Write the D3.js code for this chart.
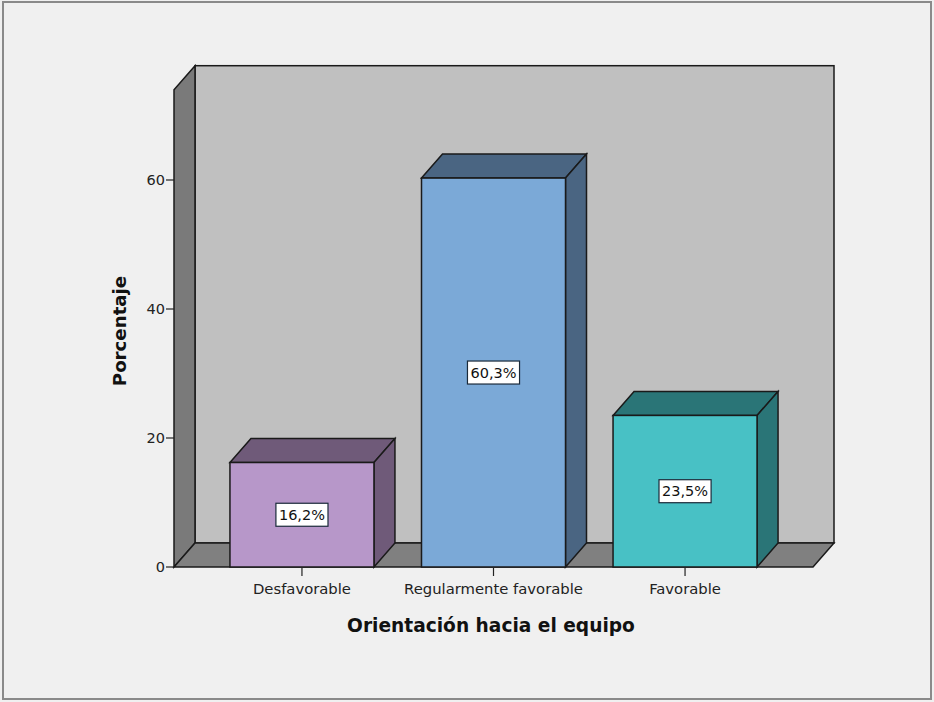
<!DOCTYPE html>
<html>
<head>
<meta charset="utf-8">
<script src="https://cdn.jsdelivr.net/npm/d3@7/dist/d3.min.js"></script>
<style>
  html, body { margin: 0; padding: 0; background: #f0f0f0; }
  svg { display: block; }
</style>
</head>
<body>
<script>
// Porcentaje por nivel de orientación hacia el equipo
const categories = ["Desfavorable", "Regularmente favorable", "Favorable"];
const values = [16.2, 60.3, 23.5];
const valueLabels = ["16,2%", "60,3%", "23,5%"];
const yTicks = [0, 20, 40, 60];
const frontColors = ["#b797c9", "#7ba9d7", "#48c1c5"];
const shadeColors = ["#6f5a79", "#4a6582", "#2a7577"];

const W = 934, H = 702;
const FONT = "DejaVu Sans, Verdana, sans-serif";
const svg = d3.select("body").append("svg").attr("width", W).attr("height", H);

// outer frame
svg.append("rect").attr("x", 3).attr("y", 2).attr("width", 928).attr("height", 697)
  .attr("fill", "#f0f0f0").attr("stroke", "#8a8a8a").attr("stroke-width", 2);

// front plane geometry and depth offset of the 3D box
const x0 = 174, x1 = 813, yBase = 567;
const dx = 21, dy = -24;
const y = d3.scaleLinear().domain([0, 74]).range([yBase, yBase - 74 * 6.45]);
const x = d3.scalePoint().domain(categories).range([x0, x1]).padding(0.668);
const barW = 144;
const topY = y(74);

const line = "#1a1a1a";

// back wall
svg.append("rect").attr("x", x0 + dx).attr("y", topY + dy)
  .attr("width", x1 - x0).attr("height", yBase - topY)
  .attr("fill", "#c0c0c0").attr("stroke", line).attr("stroke-width", 1.5);

// left side wall
svg.append("polygon")
  .attr("points", [[x0, yBase], [x0, topY], [x0 + dx, topY + dy], [x0 + dx, yBase + dy]].join(" "))
  .attr("fill", "#7a7a7a").attr("stroke", line).attr("stroke-width", 1.5);

// floor
svg.append("polygon")
  .attr("points", [[x0, yBase], [x0 + dx, yBase + dy], [x1 + dx, yBase + dy], [x1, yBase]].join(" "))
  .attr("fill", "#808080").attr("stroke", line).attr("stroke-width", 1.5);

// y axis ticks and labels
const yAxis = svg.append("g");
yTicks.forEach(t => {
  yAxis.append("line").attr("x1", x0 - 8).attr("x2", x0).attr("y1", y(t)).attr("y2", y(t))
    .attr("stroke", "#222").attr("stroke-width", 1.2);
  yAxis.append("text").attr("x", x0 - 9).attr("y", y(t)).attr("dy", "0.36em")
    .attr("text-anchor", "end").attr("font-family", FONT)
    .attr("font-size", 14.5).attr("fill", "#222").text(t);
});

// bars
categories.forEach((c, i) => {
  const cx = x(c);
  const l = cx - barW / 2, r = cx + barW / 2;
  const t = y(values[i]);
  const g = svg.append("g");
  // top face
  g.append("polygon")
    .attr("points", [[l, t], [l + dx, t + dy], [r + dx, t + dy], [r, t]].join(" "))
    .attr("fill", shadeColors[i]).attr("stroke", line).attr("stroke-width", 1.5);
  // side face
  g.append("polygon")
    .attr("points", [[r, t], [r + dx, t + dy], [r + dx, yBase + dy], [r, yBase]].join(" "))
    .attr("fill", shadeColors[i]).attr("stroke", line).attr("stroke-width", 1.5);
  // front face
  g.append("rect").attr("x", l).attr("y", t).attr("width", barW).attr("height", yBase - t)
    .attr("fill", frontColors[i]).attr("stroke", line).attr("stroke-width", 1.5);

  // value label box
  const ly = y(values[i] / 2);
  const txt = g.append("text").attr("x", cx).attr("y", ly).attr("dy", "0.36em")
    .attr("text-anchor", "middle").attr("font-family", FONT)
    .attr("font-size", 14.5).attr("fill", "#111").text(valueLabels[i]);
  const bb = txt.node().getBBox();
  g.insert("rect", "text").attr("x", bb.x - 3).attr("y", ly - 11.5)
    .attr("width", bb.width + 6).attr("height", 23)
    .attr("fill", "#ffffff").attr("stroke", "#1a2a3a").attr("stroke-width", 1.2);

  // category tick and label
  svg.append("line").attr("x1", cx).attr("x2", cx).attr("y1", yBase + 1).attr("y2", yBase + 9)
    .attr("stroke", "#222").attr("stroke-width", 1.2);
  svg.append("text").attr("x", cx).attr("y", yBase + 27)
    .attr("text-anchor", "middle").attr("font-family", FONT)
    .attr("font-size", 14.8).attr("fill", "#222").text(c);
});

// axis titles
svg.append("text").attr("x", 491).attr("y", 632)
  .attr("text-anchor", "middle").attr("font-family", FONT)
  .attr("font-weight", "bold").attr("font-size", 18.6).attr("fill", "#111")
  .text("Orientación hacia el equipo");

svg.append("text").attr("transform", "translate(126,331) rotate(-90)")
  .attr("text-anchor", "middle").attr("font-family", FONT)
  .attr("font-weight", "bold").attr("font-size", 18.2).attr("fill", "#111")
  .text("Porcentaje");
</script>
</body>
</html>
